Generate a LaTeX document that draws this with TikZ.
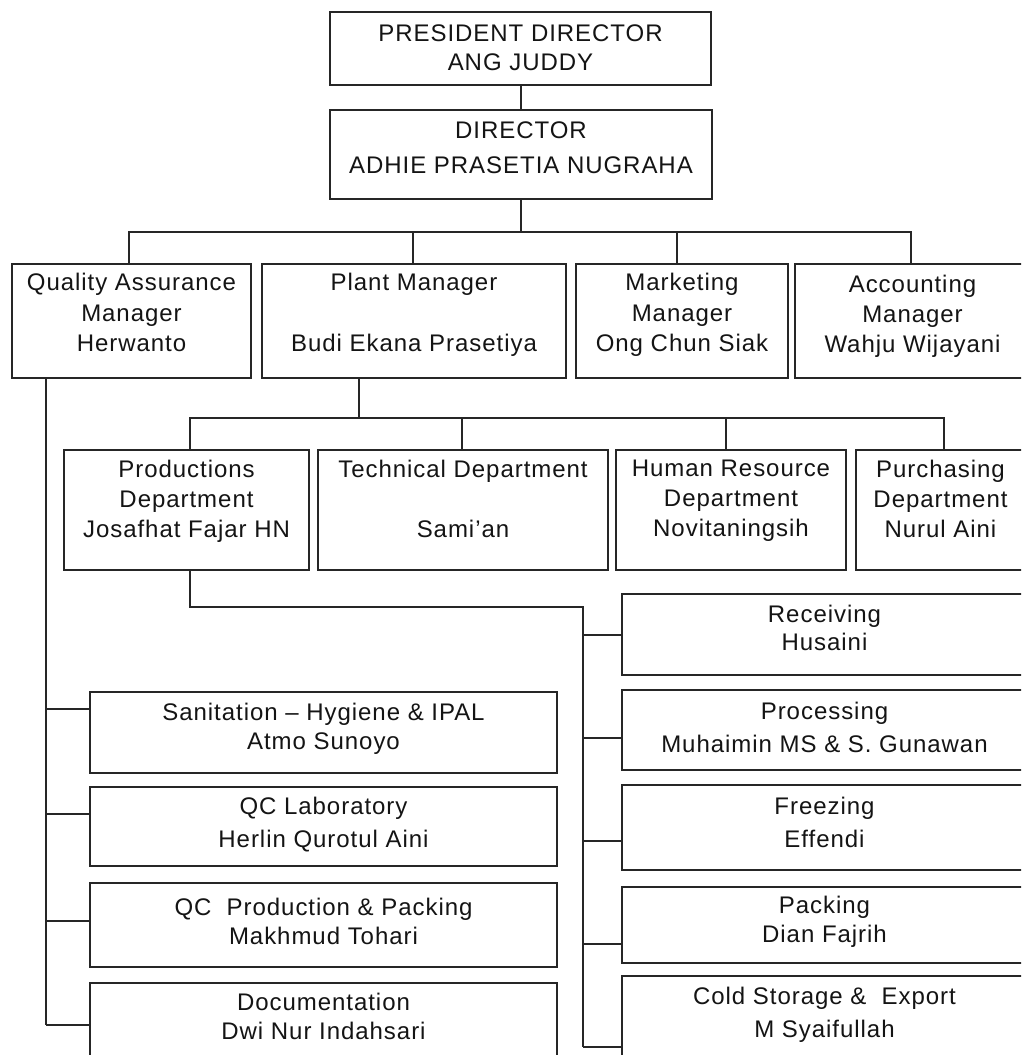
\documentclass[tikz,border=0pt]{standalone}
\usepackage{fontspec}
\setmainfont{Liberation Sans}[LetterSpace=4]
\usetikzlibrary{calc}
\tikzset{
  box/.style={draw=black!85, line width=2pt, rectangle, inner sep=0pt, fill=white},
  txt/.style={align=center, inner sep=0pt, text=black!92},
  wire/.style={draw=black!85, line width=2pt},
}
\newcommand\orgbox[8]{%
  \node[box, minimum width={#4-#2}, minimum height={#5-#3}] (#1) at ({(#2+#4)/2},{(#3+#5)/2}) {};
  \node[txt, anchor=north, font={\fontsize{24}{#7}\selectfont}] (#1-t) at ({(#2+#4)/2},#6) {#8};
}
\begin{document}
\begin{tikzpicture}[x=1pt,y=-1pt]
\useasboundingbox (0,0) rectangle (1021,1055);
\clip (0,0) rectangle (1021,1055);
\fill[white] (0,0) rectangle (1021,1055);
% top
\orgbox{pd}{330}{12}{711}{85}{25}{29}{PRESIDENT DIRECTOR\\ANG JUDDY}
\orgbox{dir}{330}{110}{712}{199}{122}{35}{DIRECTOR\\ADHIE PRASETIA NUGRAHA}
% level 3
\orgbox{qa}{12}{264}{251}{378}{273}{30.5}{Quality Assurance\\Manager\\Herwanto}
\orgbox{plant}{262}{264}{566}{378}{273}{30.5}{Plant Manager\\[30.5pt]Budi Ekana Prasetiya}
\orgbox{mkt}{576}{264}{788}{378}{273}{30.5}{Marketing\\Manager\\Ong Chun Siak}
\orgbox{acc}{795}{264}{1030}{378}{275}{30}{Accounting\\Manager\\Wahju Wijayani}
% level 4
\orgbox{prod}{64}{450}{309}{570}{460}{30}{Productions\\Department\\Josafhat Fajar HN}
\orgbox{tech}{318}{450}{608}{570}{460}{30}{Technical Department\\[30pt]Sami’an}
\orgbox{hr}{616}{450}{846}{570}{460}{30}{Human Resource\\Department\\Novitaningsih}
\orgbox{pur}{856}{450}{1025}{570}{460}{30}{Purchasing\\Department\\Nurul Aini}
% right column
\orgbox{recv}{622}{594}{1027}{675}{605}{28}{Receiving\\Husaini}
\orgbox{proc}{622}{690}{1027}{770}{702}{33}{Processing\\Muhaimin MS \& S. Gunawan}
\orgbox{frz}{622}{785}{1027}{870}{797}{33}{Freezing\\Effendi}
\orgbox{pack}{622}{887}{1027}{963}{896}{29}{Packing\\Dian Fajrih}
\orgbox{cold}{622}{976}{1027}{1075}{987}{33}{Cold Storage \&\ \ Export\\M Syaifullah}
% left column
\orgbox{san}{90}{692}{557}{773}{703}{29}{Sanitation – Hygiene \& IPAL\\Atmo Sunoyo}
\orgbox{lab}{90}{787}{557}{866}{797}{33}{QC Laboratory\\Herlin Qurotul Aini}
\orgbox{qcp}{90}{883}{557}{967}{898}{29}{QC\ \ Production \& Packing\\Makhmud Tohari}
\orgbox{doc}{90}{983}{557}{1075}{993}{29}{Documentation\\Dwi Nur Indahsari}
% connectors
\coordinate (bus1) at (0,232);
\coordinate (bus2) at (0,418);
\coordinate (qaN) at ($(qa.north)+(-2.5,0)$);
\coordinate (plantN) at ($(plant.north)+(-1,0)$);
\coordinate (mktN) at ($(mkt.north)+(-5,0)$);
\coordinate (accN) at ($(acc.north)+(-1.5,0)$);
\draw[wire] (pd.south) -- (pd.south |- dir.north);
\draw[wire] (dir.south) -- (dir.south |- bus1);
\draw[wire] (qaN) |- (bus1 -| accN) -- (accN);
\draw[wire] (plantN) -- (plantN |- bus1);
\draw[wire] (mktN) -- (mktN |- bus1);
\coordinate (pdown) at ($(plant.south west)+(98,0)$);
\coordinate (prodN) at ($(prod.north)+(3.5,0)$);
\coordinate (techN) at ($(tech.north)+(-1,0)$);
\coordinate (hrN) at ($(hr.north)+(-5,0)$);
\coordinate (purN) at ($(pur.north)+(3,0)$);
\draw[wire] (pdown) -- (pdown |- bus2);
\draw[wire] (prodN) |- (bus2 -| purN) -- (purN);
\draw[wire] (techN) -- (techN |- bus2);
\draw[wire] (hrN) -- (hrN |- bus2);
% production spine
\coordinate (prodS) at ($(prod.south)+(3.5,0)$);
\coordinate (pspine) at (583,607);
\coordinate (pend) at (583,1047);
\coordinate (recvW) at ($(recv.north west)+(0,42)$);
\coordinate (procW) at ($(proc.north west)+(0,49)$);
\coordinate (frzW) at ($(frz.north west)+(0,57)$);
\coordinate (packW) at ($(pack.north west)+(0,58)$);
\draw[wire] (prodS) |- (pspine) -- (pend);
\draw[wire] (pspine |- recvW) -- (recvW);
\draw[wire] (pspine |- procW) -- (procW);
\draw[wire] (pspine |- frzW) -- (frzW);
\draw[wire] (pspine |- packW) -- (packW);
\draw[wire] (pend) -- (pend -| cold.west);
% QA spine
\coordinate (qspine) at ($(qa.south west)+(35,0)$);
\coordinate (qend) at (qspine |- 0,1025);
\coordinate (sanW) at ($(san.north west)+(0,18)$);
\coordinate (labW) at ($(lab.north west)+(0,28)$);
\coordinate (qcpW) at ($(qcp.north west)+(0,39)$);
\draw[wire] (qspine) -- (qend);
\draw[wire] (qspine |- sanW) -- (sanW);
\draw[wire] (qspine |- labW) -- (labW);
\draw[wire] (qspine |- qcpW) -- (qcpW);
\draw[wire] (qend) -- (qend -| doc.west);
\end{tikzpicture}
\end{document}
